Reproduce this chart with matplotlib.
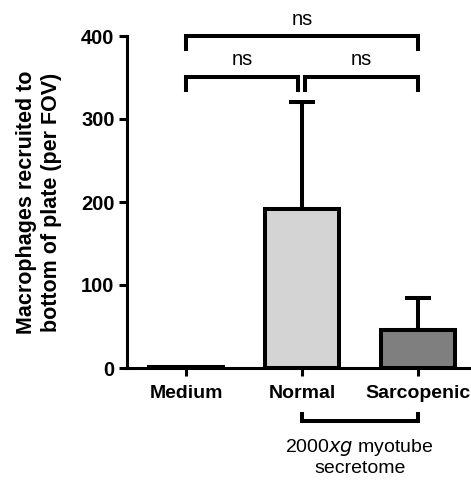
import matplotlib.pyplot as plt
import numpy as np

groups = ["Medium", "Normal", "Sarcopenic"]
means = [1, 191, 46]
sd = [0, 129, 38]
fills = ["white", "#d4d4d4", "#7f7f7f"]
yticks = [0, 100, 200, 300, 400]

plt.rcParams['font.family'] = ['Liberation Sans', 'DejaVu Sans']

fig = plt.figure(figsize=(4.71, 4.80), dpi=100)
ax = fig.add_axes([127/471, 1 - 368/480, 1 - 127/471, (368 - 36)/480])

x = np.arange(len(groups))
ax.bar(x, means, width=0.64, color=fills, edgecolor="black", linewidth=2.9, zorder=2)
ax.errorbar(x[1:], means[1:], yerr=[np.zeros(2), sd[1:]], fmt="none",
            ecolor="black", elinewidth=2.9, capsize=9.5, capthick=2.9, zorder=1)

ax.set_xlim(-0.51, 2.46)
ax.set_ylim(0, 400)
ax.set_yticks(yticks)
ax.set_xticks(x)
ax.set_xticklabels(groups, fontsize=14, fontweight="bold")
ax.tick_params(axis="y", labelsize=14.5, width=2.2, length=6, pad=3)
ax.tick_params(axis="x", width=2.2, length=6, pad=6)
for lab in ax.get_yticklabels():
    lab.set_fontweight("bold")
for s in ["top", "right"]:
    ax.spines[s].set_visible(False)
for s in ["left", "bottom"]:
    ax.spines[s].set_linewidth(2.2)

ax.set_ylabel("Macrophages recruited to\nbottom of plate (per FOV)",
              fontsize=15.5, fontweight="bold", labelpad=14, linespacing=1.2)


# significance brackets
def bracket(x1, x2, y, h, label):
    ax.plot([x1, x1, x2, x2], [y - h, y, y, y - h], color="black",
            lw=2.9, clip_on=False, solid_joinstyle="miter")
    ax.text((x1 + x2) / 2, y + 9, label, ha="center", va="bottom",
            fontsize=14.5)

bracket(0, 2, 400, 16, "ns")
bracket(0, 0.97, 351, 16, "ns")
bracket(1.03, 2, 351, 16, "ns")

# group bracket below the axis
ax.plot([1, 1, 2, 2], [-55, -64, -64, -55], color="black", lw=2.9,
        clip_on=False, solid_joinstyle="miter")
ax.text(1.5, -83, "2000$\\it{xg}$ myotube\nsecretome", ha="center",
        va="top", fontsize=14, linespacing=1.2)

fig.savefig("out.png", dpi=100)
